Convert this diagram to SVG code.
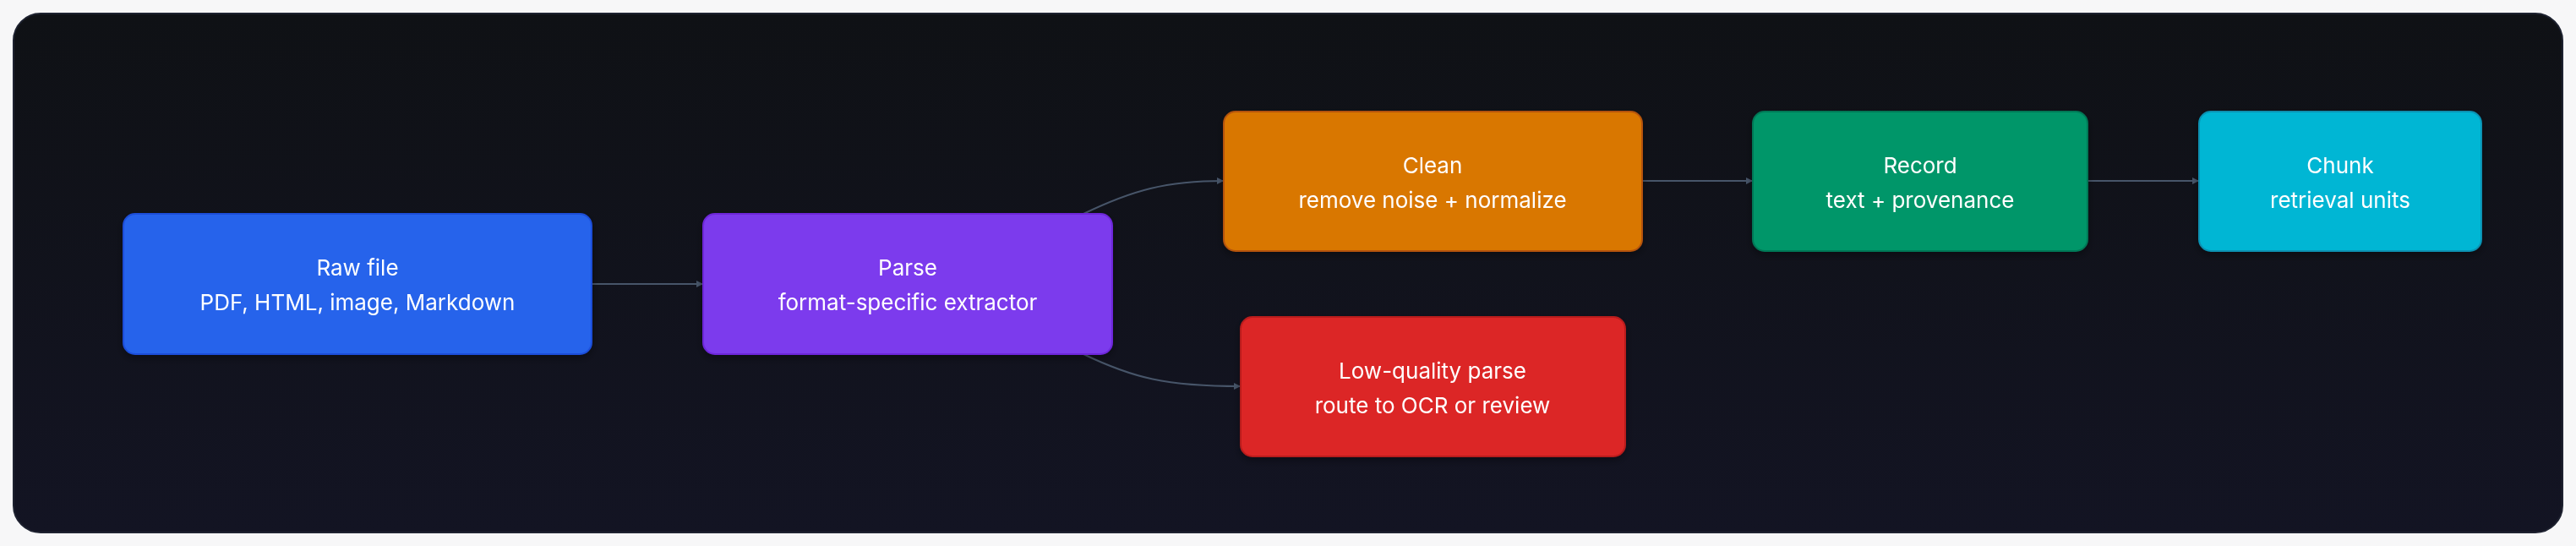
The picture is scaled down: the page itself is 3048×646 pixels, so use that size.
<svg xmlns="http://www.w3.org/2000/svg" width="3048" height="646" viewBox="0 0 3048 646">
<defs>
<linearGradient id="bg" x1="0" y1="0" x2="0" y2="1"><stop offset="0" stop-color="#0f1115"/><stop offset="1" stop-color="#131423"/></linearGradient>
<marker id="ah" viewBox="0 0 10 10" refX="10" refY="5" markerWidth="8" markerHeight="8" markerUnits="userSpaceOnUse" orient="auto"><path d="M0,0 L10,5 L0,10 z" fill="#475569"/></marker>
<filter id="sh" x="-10%" y="-10%" width="120%" height="130%"><feDropShadow dx="0" dy="4" stdDeviation="5" flood-color="#000" flood-opacity="0.35"/></filter>
</defs>
<style>
.n{stroke-width:2}
.t{font-family:Inter,"Noto Sans",sans-serif;font-size:26px;fill:#ffffff;text-anchor:middle}
.e{fill:none;stroke:#475569;stroke-width:2;marker-end:url(#ah)}
</style>
<rect width="3048" height="646" fill="#f7f7f8"/>
<rect x="16" y="16" width="3016" height="614" rx="32" fill="url(#bg)" stroke="#1e2230" stroke-width="2"/>
<g id="connectors">
<path class="e" d="M700,336 L832,336"/>
<path class="e" d="M1282,253 C1340,225 1380,214 1448,214"/>
<path class="e" d="M1282,419 C1340,447 1380,457 1468,457"/>
<path class="e" d="M1943,214 L2074,214"/>
<path class="e" d="M2470,214 L2602,214"/>
</g>
<g id="raw" filter="url(#sh)"><rect class="n" x="146" y="253" width="554" height="166" rx="14" fill="#2563eb" stroke="#1d4ed8"/><text class="t" x="423" y="326">Raw file</text><text class="t" x="423" y="367">PDF, HTML, image, Markdown</text></g>
<g id="parse" filter="url(#sh)"><rect class="n" x="832" y="253" width="484" height="166" rx="14" fill="#7c3aed" stroke="#6d28d9"/><text class="t" x="1074" y="326">Parse</text><text class="t" x="1074" y="367">format-specific extractor</text></g>
<g id="clean" filter="url(#sh)"><rect class="n" x="1448" y="132" width="495" height="165" rx="14" fill="#d97706" stroke="#b45309"/><text class="t" x="1695" y="205">Clean</text><text class="t" x="1695" y="246">remove noise + normalize</text></g>
<g id="record" filter="url(#sh)"><rect class="n" x="2074" y="132" width="396" height="165" rx="14" fill="#059669" stroke="#047857"/><text class="t" x="2272" y="205">Record</text><text class="t" x="2272" y="246">text + provenance</text></g>
<g id="chunk" filter="url(#sh)"><rect class="n" x="2602" y="132" width="334" height="165" rx="14" fill="#06b6d4" stroke="#0891b2"/><text class="t" x="2769" y="205">Chunk</text><text class="t" x="2769" y="246">retrieval units</text></g>
<g id="lowq" filter="url(#sh)"><rect class="n" x="1468" y="375" width="455" height="165" rx="14" fill="#dc2626" stroke="#b91c1c"/><text class="t" x="1695" y="448">Low-quality parse</text><text class="t" x="1695" y="489">route to OCR or review</text></g>
</svg>
